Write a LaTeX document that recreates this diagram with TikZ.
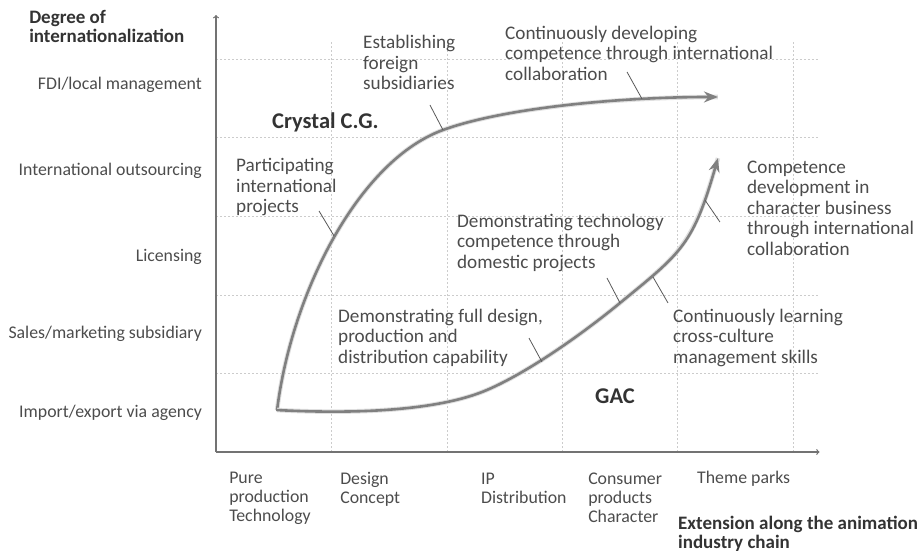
\documentclass[tikz,border=0pt]{standalone}
\usepackage{fontspec}
\setmainfont{Carlito}
\usetikzlibrary{arrows.meta}

\definecolor{texto}{gray}{0.30}
\definecolor{curva}{gray}{0.50}

\tikzset{
	grade/.style={gray!40, dash pattern=on 2pt off 2pt, line width=.6pt},
	eixo/.style={black!55, line width=1.2pt, -to},
	trajeto/.style={curva, line width=2.6pt, ->, line cap=round,
		preaction={draw=black!12, line width=4.6pt, -, shift={(.6pt,-.6pt)}}},
	traco/.style={black!65, line width=.8pt},
	nivel/.style={texto, align=left, inner sep=0pt,
		font=\fontsize{17.8}{19}\selectfont},
	rotulo/.style={texto, align=left, inner sep=0pt,
		font=\fontsize{19.2}{20.5}\selectfont},
	titulo/.style={black!80, align=left, inner sep=0pt,
		font=\fontsize{19}{19.5}\selectfont\bfseries},
	empresa/.style={black!80, inner sep=0pt,
		font=\fontsize{22.5}{24}\selectfont\bfseries}
}

\begin{document}
\begin{tikzpicture}[>={Stealth[length=14pt,width=11pt]}, x=115.4pt, y=78.6pt]
	\useasboundingbox (-1.872,-1.285) rectangle (6.092,5.751);
	%grade
	\foreach \x in {1,...,5}
		\draw[grade] (\x,0) -- (\x,5.22);
	\foreach \y in {1,...,5}
		\draw[grade] (0,\y) -- (5.23,\y);
	%eixos
	\coordinate (O) at (0,0);
	\coordinate (topo) at (0,5.56);
	\coordinate (fim) at (5.23,0);
	\draw[eixo] (O) -- (topo);
	\draw[eixo] (O) -- (fim);
	\node[titulo, anchor=base west] (ty) at (-1.62,5.204) {Degree of\\internationalization};
	\node[titulo, anchor=base west] (tx) at (4.003,-1.234) {Extension along the animation\\industry chain};
	%niveis no eixo Oy
	\node[nivel, anchor=base east] (n5) at (-0.121,4.606) {FDI/local management};
	\node[nivel, anchor=base east] (n4) at (-0.121,3.524) {International outsourcing};
	\node[nivel, anchor=base east] (n3) at (-0.121,2.430) {Licensing};
	\node[nivel, anchor=base east] (n2) at (-0.121,1.450) {Sales/marketing subsidiary};
	\node[nivel, anchor=base east] (n1) at (-0.121,0.433) {Import/export via agency};
	%etapas no eixo Ox (ancora na ultima linha)
	\node[nivel, anchor=base west] (e1) at (0.113,-0.878) {Pure\\production\\Technology};
	\node[nivel, anchor=base west] (e2) at (1.075,-0.649) {Design\\Concept};
	\node[nivel, anchor=base west] (e3) at (2.296,-0.649) {IP\\Distribution};
	\node[nivel, anchor=base west] (e4) at (3.224,-0.891) {Consumer\\products\\Character};
	\node[nivel, anchor=base west] (e5) at (4.168,-0.407) {Theme parks};
	%trajeto Crystal C.G.
	\coordinate (c1) at (0.529,0.534);
	\coordinate (c2) at (1.967,4.097);
	\coordinate (c3) at (4.35,4.517);
	\coordinate (ca) at (1.023,2.748);
	\coordinate (cb) at (3.692,4.491);
	\draw[trajeto] (c1) .. controls (0.659,2.061) and (1.248,3.715) .. (c2)
		.. controls (2.487,4.377) and (3.501,4.517) .. (c3);
	%trajeto GAC
	\coordinate (g1) at (0.529,0.534);
	\coordinate (g2) at (2.348,0.789);
	\coordinate (g3) at (3.501,1.896);
	\coordinate (g4) at (4.35,3.74);
	\coordinate (ga) at (2.825,1.145);
	\coordinate (gb) at (3.787,2.226);
	\coordinate (gc) at (4.237,3.206);
	\draw[trajeto] (g1) .. controls (1.161,0.483) and (1.915,0.515) .. (g2)
		.. controls (2.695,1.008) and (3.154,1.478) .. (g3)
		.. controls (4.040,2.545) and (4.134,2.634) .. (g4);
	\node[empresa, anchor=base west] (cg) at (0.485,4.122) {Crystal C.G.};
	\node[empresa, anchor=base west] (gac) at (3.284,0.623) {GAC};
	%rotulos das etapas (ancora na ultima linha)
	\node[rotulo, anchor=base west] (r1) at (0.173,3.041) {Participating\\international\\projects};
	\node[rotulo, anchor=base west] (r2) at (1.274,4.606) {Establishing\\foreign\\subsidiaries};
	\node[rotulo, anchor=base west] (r3) at (2.504,4.733) {Continuously developing\\competence through international\\collaboration};
	\node[rotulo, anchor=base west] (r4) at (4.601,2.506) {Competence\\development in\\character business\\through international\\collaboration};
	\node[rotulo, anchor=base west] (r5) at (2.088,2.341) {Demonstrating technology\\competence through\\domestic projects};
	\node[rotulo, anchor=base west] (r6) at (3.960,1.132) {Continuously learning\\cross-culture\\management skills};
	\node[rotulo, anchor=base west] (r7) at (1.057,1.132) {Demonstrating full design,\\production and\\distribution capability};
	%tracos ate as curvas
	\coordinate (pa) at (0.893,3.066);
	\coordinate (pb) at (1.854,4.415);
	\coordinate (pc) at (3.562,4.835);
	\coordinate (pd) at (4.367,2.926);
	\coordinate (pe) at (3.388,2.214);
	\coordinate (pf) at (3.917,1.896);
	\coordinate (pg) at (2.712,1.450);
	\foreach \a/\b in {pa/ca, pb/c2, pc/cb, pd/gc, pe/g3, pf/gb, pg/ga}
		\draw[traco] (\a) -- (\b);
\end{tikzpicture}
\end{document}
